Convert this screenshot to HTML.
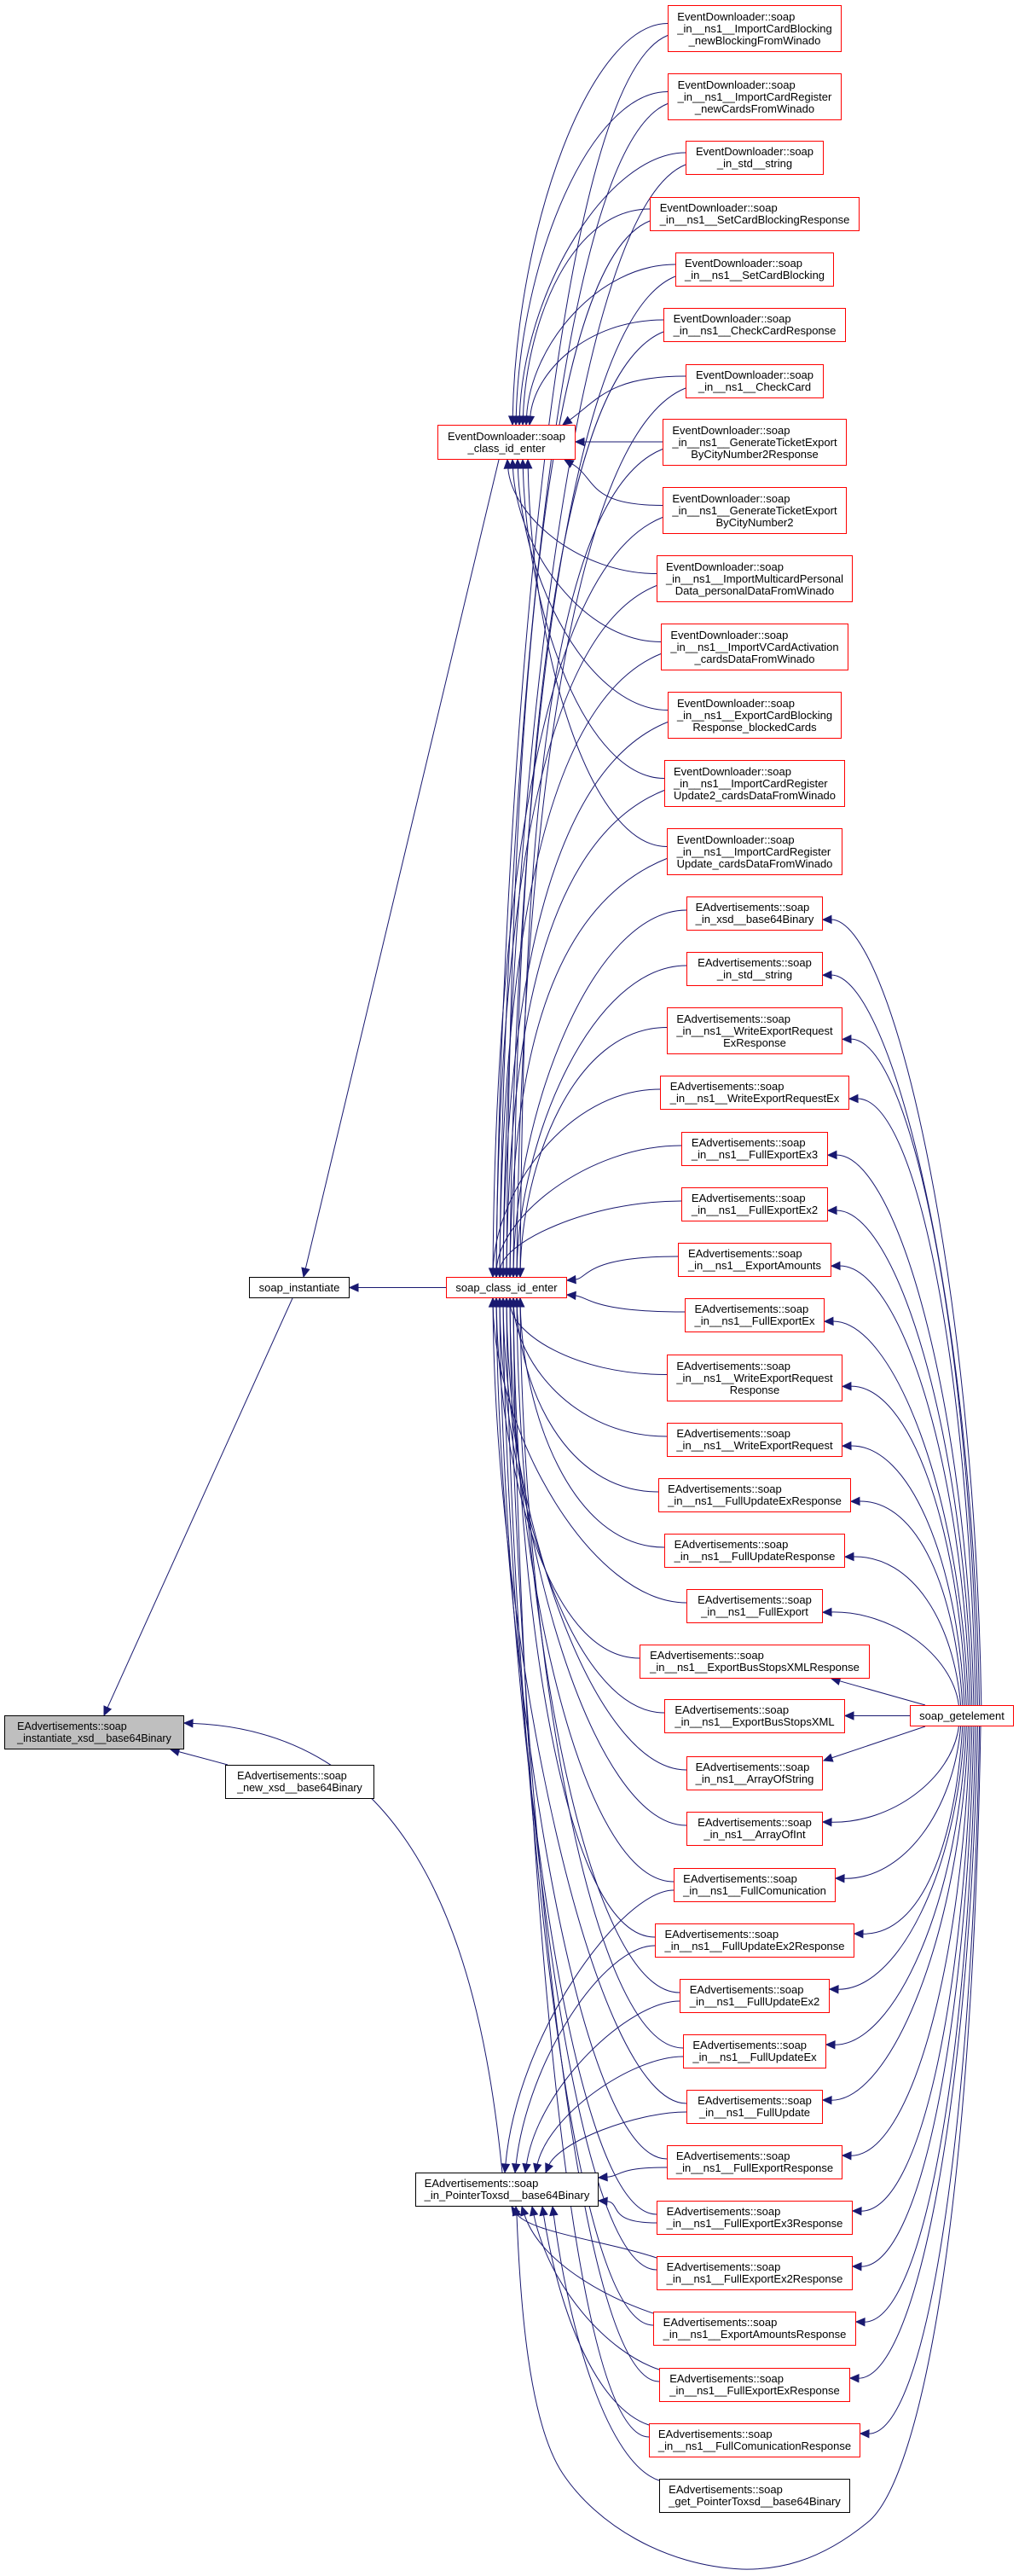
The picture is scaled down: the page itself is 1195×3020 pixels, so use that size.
<!DOCTYPE html>
<html><head><meta charset="utf-8"><style>
body{margin:0;background:#fff;}
#c{position:relative;width:1195px;height:3020px;overflow:hidden;background:#fff;font-family:"Liberation Sans",Arial,sans-serif;}
svg{position:absolute;left:0;top:0;}
.n{position:absolute;box-sizing:border-box;border:1.3px solid #ff0000;background:#fff;display:flex;align-items:center;justify-content:center;font-size:13px;line-height:14px;color:#000;}
.b{border-color:#000;}
.g{background:#bfbfbf;}
.t{display:inline-block;text-align:left;white-space:nowrap;}
.t div:last-child{text-align:center;}
.s{font-size:12.5px;}
</style></head><body><div id="c">
<svg id="e" width="1195" height="3020"></svg>

<div class="n b g s" style="left:5px;top:2011px;width:211px;height:40px"><div class="t"><div>EAdvertisements::soap</div><div>_instantiate_xsd__base64Binary</div></div></div>
<div class="n b s" style="left:264px;top:2069px;width:175px;height:40px"><div class="t"><div>EAdvertisements::soap</div><div>_new_xsd__base64Binary</div></div></div>
<div class="n b" style="left:292px;top:1497px;width:118px;height:25px"><div class="t"><div>soap_instantiate</div></div></div>
<div class="n" style="left:523px;top:1497px;width:142px;height:25px"><div class="t"><div>soap_class_id_enter</div></div></div>
<div class="n" style="left:513px;top:498px;width:162px;height:41px"><div class="t" style="text-align:center"><div style="text-align:center">EventDownloader::soap</div><div>_class_id_enter</div></div></div>
<div class="n b" style="left:487px;top:2547px;width:215px;height:40px"><div class="t"><div>EAdvertisements::soap</div><div>_in_PointerToxsd__base64Binary</div></div></div>
<div class="n" style="left:1067px;top:1999px;width:122px;height:25px"><div class="t"><div>soap_getelement</div></div></div>

<div class="n" style="left:783px;top:6px;width:204px;height:55px"><div class="t"><div>EventDownloader::soap</div><div>_in__ns1__ImportCardBlocking</div><div>_newBlockingFromWinado</div></div></div>
<div class="n" style="left:783px;top:86px;width:204px;height:55px"><div class="t"><div>EventDownloader::soap</div><div>_in__ns1__ImportCardRegister</div><div>_newCardsFromWinado</div></div></div>
<div class="n" style="left:804px;top:165px;width:162px;height:40px"><div class="t"><div>EventDownloader::soap</div><div>_in_std__string</div></div></div>
<div class="n" style="left:762px;top:231px;width:246px;height:40px"><div class="t"><div>EventDownloader::soap</div><div>_in__ns1__SetCardBlockingResponse</div></div></div>
<div class="n" style="left:792px;top:296px;width:186px;height:40px"><div class="t"><div>EventDownloader::soap</div><div>_in__ns1__SetCardBlocking</div></div></div>
<div class="n" style="left:778px;top:361px;width:214px;height:40px"><div class="t"><div>EventDownloader::soap</div><div>_in__ns1__CheckCardResponse</div></div></div>
<div class="n" style="left:804px;top:427px;width:162px;height:40px"><div class="t"><div>EventDownloader::soap</div><div>_in__ns1__CheckCard</div></div></div>
<div class="n" style="left:777px;top:491px;width:216px;height:55px"><div class="t"><div>EventDownloader::soap</div><div>_in__ns1__GenerateTicketExport</div><div>ByCityNumber2Response</div></div></div>
<div class="n" style="left:777px;top:571px;width:216px;height:55px"><div class="t"><div>EventDownloader::soap</div><div>_in__ns1__GenerateTicketExport</div><div>ByCityNumber2</div></div></div>
<div class="n" style="left:770px;top:651px;width:230px;height:55px"><div class="t"><div>EventDownloader::soap</div><div>_in__ns1__ImportMulticardPersonal</div><div>Data_personalDataFromWinado</div></div></div>
<div class="n" style="left:775px;top:731px;width:220px;height:55px"><div class="t"><div>EventDownloader::soap</div><div>_in__ns1__ImportVCardActivation</div><div>_cardsDataFromWinado</div></div></div>
<div class="n" style="left:783px;top:811px;width:204px;height:55px"><div class="t"><div>EventDownloader::soap</div><div>_in__ns1__ExportCardBlocking</div><div>Response_blockedCards</div></div></div>
<div class="n" style="left:779px;top:891px;width:212px;height:55px"><div class="t"><div>EventDownloader::soap</div><div>_in__ns1__ImportCardRegister</div><div>Update2_cardsDataFromWinado</div></div></div>
<div class="n" style="left:782px;top:971px;width:206px;height:55px"><div class="t"><div>EventDownloader::soap</div><div>_in__ns1__ImportCardRegister</div><div>Update_cardsDataFromWinado</div></div></div>

<div class="n" style="left:805px;top:1051px;width:160px;height:40px"><div class="t"><div>EAdvertisements::soap</div><div>_in_xsd__base64Binary</div></div></div>
<div class="n" style="left:805px;top:1116px;width:160px;height:40px"><div class="t"><div>EAdvertisements::soap</div><div>_in_std__string</div></div></div>
<div class="n" style="left:782px;top:1181px;width:206px;height:55px"><div class="t"><div>EAdvertisements::soap</div><div>_in__ns1__WriteExportRequest</div><div>ExResponse</div></div></div>
<div class="n" style="left:774px;top:1261px;width:222px;height:40px"><div class="t"><div>EAdvertisements::soap</div><div>_in__ns1__WriteExportRequestEx</div></div></div>
<div class="n" style="left:799px;top:1327px;width:172px;height:40px"><div class="t"><div>EAdvertisements::soap</div><div>_in__ns1__FullExportEx3</div></div></div>
<div class="n" style="left:799px;top:1392px;width:172px;height:40px"><div class="t"><div>EAdvertisements::soap</div><div>_in__ns1__FullExportEx2</div></div></div>
<div class="n" style="left:795px;top:1457px;width:180px;height:40px"><div class="t"><div>EAdvertisements::soap</div><div>_in__ns1__ExportAmounts</div></div></div>
<div class="n" style="left:803px;top:1522px;width:164px;height:40px"><div class="t"><div>EAdvertisements::soap</div><div>_in__ns1__FullExportEx</div></div></div>
<div class="n" style="left:782px;top:1588px;width:206px;height:55px"><div class="t"><div>EAdvertisements::soap</div><div>_in__ns1__WriteExportRequest</div><div>Response</div></div></div>
<div class="n" style="left:782px;top:1668px;width:206px;height:40px"><div class="t"><div>EAdvertisements::soap</div><div>_in__ns1__WriteExportRequest</div></div></div>
<div class="n" style="left:772px;top:1733px;width:226px;height:40px"><div class="t"><div>EAdvertisements::soap</div><div>_in__ns1__FullUpdateExResponse</div></div></div>
<div class="n" style="left:779px;top:1798px;width:212px;height:40px"><div class="t"><div>EAdvertisements::soap</div><div>_in__ns1__FullUpdateResponse</div></div></div>
<div class="n" style="left:805px;top:1863px;width:160px;height:40px"><div class="t"><div>EAdvertisements::soap</div><div>_in__ns1__FullExport</div></div></div>
<div class="n" style="left:750px;top:1928px;width:270px;height:40px"><div class="t"><div>EAdvertisements::soap</div><div>_in__ns1__ExportBusStopsXMLResponse</div></div></div>
<div class="n" style="left:779px;top:1992px;width:212px;height:40px"><div class="t"><div>EAdvertisements::soap</div><div>_in__ns1__ExportBusStopsXML</div></div></div>
<div class="n" style="left:805px;top:2059px;width:160px;height:40px"><div class="t"><div>EAdvertisements::soap</div><div>_in_ns1__ArrayOfString</div></div></div>
<div class="n" style="left:805px;top:2124px;width:160px;height:40px"><div class="t"><div>EAdvertisements::soap</div><div>_in_ns1__ArrayOfInt</div></div></div>
<div class="n" style="left:790px;top:2190px;width:190px;height:40px"><div class="t"><div>EAdvertisements::soap</div><div>_in__ns1__FullComunication</div></div></div>
<div class="n" style="left:768px;top:2255px;width:234px;height:40px"><div class="t"><div>EAdvertisements::soap</div><div>_in__ns1__FullUpdateEx2Response</div></div></div>
<div class="n" style="left:797px;top:2320px;width:176px;height:40px"><div class="t"><div>EAdvertisements::soap</div><div>_in__ns1__FullUpdateEx2</div></div></div>
<div class="n" style="left:801px;top:2385px;width:168px;height:40px"><div class="t"><div>EAdvertisements::soap</div><div>_in__ns1__FullUpdateEx</div></div></div>
<div class="n" style="left:805px;top:2450px;width:160px;height:40px"><div class="t"><div>EAdvertisements::soap</div><div>_in__ns1__FullUpdate</div></div></div>
<div class="n" style="left:782px;top:2515px;width:206px;height:40px"><div class="t"><div>EAdvertisements::soap</div><div>_in__ns1__FullExportResponse</div></div></div>
<div class="n" style="left:770px;top:2580px;width:230px;height:40px"><div class="t"><div>EAdvertisements::soap</div><div>_in__ns1__FullExportEx3Response</div></div></div>
<div class="n" style="left:770px;top:2645px;width:230px;height:40px"><div class="t"><div>EAdvertisements::soap</div><div>_in__ns1__FullExportEx2Response</div></div></div>
<div class="n" style="left:766px;top:2710px;width:238px;height:40px"><div class="t"><div>EAdvertisements::soap</div><div>_in__ns1__ExportAmountsResponse</div></div></div>
<div class="n" style="left:773px;top:2776px;width:224px;height:40px"><div class="t"><div>EAdvertisements::soap</div><div>_in__ns1__FullExportExResponse</div></div></div>
<div class="n" style="left:761px;top:2841px;width:248px;height:40px"><div class="t"><div>EAdvertisements::soap</div><div>_in__ns1__FullComunicationResponse</div></div></div>
<div class="n b" style="left:773px;top:2906px;width:224px;height:40px"><div class="t"><div>EAdvertisements::soap</div><div>_get_PointerToxsd__base64Binary</div></div></div>
</div>
<script>
var N=[null,
[783,987,6,55],[783,987,86,55],[804,966,165,40],[762,1008,231,40],[792,978,296,40],[778,992,361,40],[804,966,427,40],
[777,993,491,55],[777,993,571,55],[770,1000,651,55],[775,995,731,55],[783,987,811,55],[779,991,891,55],[782,988,971,55],
[805,965,1051,40],[805,965,1116,40],[782,988,1181,55],[774,996,1261,40],[799,971,1327,40],[799,971,1392,40],[795,975,1457,40],
[803,967,1522,40],[782,988,1588,55],[782,988,1668,40],[772,998,1733,40],[779,991,1798,40],[805,965,1863,40],[750,1020,1928,40],
[779,991,1992,40],[805,965,2059,40],[805,965,2124,40],[790,980,2190,40],[768,1002,2255,40],[797,973,2320,40],[801,969,2385,40],
[805,965,2450,40],[782,988,2515,40],[770,1000,2580,40],[770,1000,2645,40],[766,1004,2710,40],[773,997,2776,40],[761,1009,2841,40],
[773,997,2906,40]];
var svg=document.getElementById('e'),out='',C='#191970';
function arrow(ex,ey,tx,ty){var dx=ex-tx,dy=ey-ty,l=Math.sqrt(dx*dx+dy*dy)||1;dx/=l;dy/=l;var L=10,W=4.5;
var bx=ex-dx*L,by=ey-dy*L;out+='<polygon points="'+ex+','+ey+' '+(bx-dy*W)+','+(by+dx*W)+' '+(bx+dy*W)+','+(by-dx*W)+'" fill="'+C+'" stroke="'+C+'"/>';}
function P(d){out+='<path d="'+d+'" fill="none" stroke="'+C+'" stroke-width="1"/>';}
function cub(sx,sy,c1x,c1y,c2x,c2y,ex,ey){var bx=ex-(ex-c2x)*0.12,by=ey-(ey-c2y)*0.12;
var dx=ex-c2x,dy=ey-c2y,l=Math.sqrt(dx*dx+dy*dy)||1;var px=ex-dx/l*9,py=ey-dy/l*9;
P('M'+sx+','+sy+' C'+c1x+','+c1y+' '+c2x+','+c2y+' '+px+','+py);arrow(ex,ey,c2x,c2y);}
function line(sx,sy,ex,ey){var dx=ex-sx,dy=ey-sy,l=Math.sqrt(dx*dx+dy*dy);P('M'+sx+','+sy+' L'+(ex-dx/l*9)+','+(ey-dy/l*9));arrow(ex,ey,sx,sy);}
// simple ones
line(343,1522,122,2011);
line(585,539,356,1497);
line(523,1509.5,410,1509.5);
line(267,2069,200,2051);
cub(589,2547,560,2250,470,2030,216,2020);
// ED nodes -> ED enter
for(var i=1;i<=14;i++){var n=N[i],L=n[0],cy=n[2]+n[3]/2,sy=cy-6,ex,ey,c2x,c2y;
 if(i<=6){ex=597+i*4;ey=498;c2x=ex+5;c2y=ey-Math.min((ey-sy)*0.5,250);}
 else if(i==7){ex=660;ey=498;c2x=700;c2y=470;}
 else if(i==8){ex=675;ey=518;c2x=700;c2y=518;sy=518;}
 else if(i==9){ex=662;ey=539;c2x=700;c2y=560;}
 else{ex=595+(i-10)*6;ey=539;c2x=ex+5;c2y=ey+Math.min((sy-ey)*0.5,250);}
 cub(L,sy,L-90,sy,c2x,c2y,ex,ey);}
// all -> soap_class_id_enter
for(var i=1;i<=42;i++){var n=N[i],L=n[0],cy=n[2]+n[3]/2,sy=i<=14?cy+8:cy-4,ex,ey,c2x,c2y;
 if(i<=20){ex=578+(i%9)*4;ey=1497;c2x=ex+3;c2y=ey-Math.min((ey-sy)*0.45,400);}
 else if(i==21){ex=665;ey=1501;c2x=690;c2y=1499;}
 else if(i==22){ex=665;ey=1518;c2x=690;c2y=1520;}
 else{ex=578+(i%9)*4;ey=1522;c2x=ex+3;c2y=ey+Math.min((sy-ey)*0.45,400);}
 var c1x=i<=14?L-150:L-110;
 cub(L,sy,c1x,sy+(i<=14?60:0),c2x,c2y,ex,ey);}
// -> in_PointerToxsd
var IP=[487,702,2547,2587];
for(var i=32;i<=43;i++){var n=N[i],L=n[0],cy=n[2]+n[3]/2,sy=(i>=39)?n[2]+2:cy+6,ex,ey,c2x,c2y;
 if(i<=36){ex=592+(i-32)*12;ey=2547;c2x=ex+15;c2y=ey-Math.min((ey-sy)*0.5,200);}
 else if(i==37){ex=702;ey=2553;c2x=730;c2y=2551;}
 else if(i==38){ex=702;ey=2580;c2x=730;c2y=2582;}
 else{ex=600+(i-39)*12;ey=2587;c2x=ex+20;c2y=ey+Math.min((sy-ey)*0.5,150);}
 cub(L,sy,L-60,sy+(i>=39?-20:0),c2x,c2y,ex,ey);}
// getelement -> EAdv nodes
for(var i=15;i<=42;i++){var n=N[i],R=n[1],y=n[2],h=n[3];
 if(i==29){line(1067,2011.5,991,2011.5);continue;}
 if(i==28){line(1085,1999,975,1968);continue;}
 if(i==30){line(1085,2024,966,2064);continue;}
 if(i<29){var ey=y+h*0.68,gx=1120+(29-i)*2.2,sy=1999;cub(gx,sy,gx-8,ey+(sy-ey)*0.45,R+80,ey-2,R,ey);}
 else{var ey=y+h*0.3,gx=1120+(i-29)*2.2,sy=2024;cub(gx,sy,gx-8,ey-(ey-sy)*0.45,R+80,ey+2,R,ey);}}
// big loop getelement -> in_Pointer
P('M1150,2024 C1140,2600 1080,2900 1020,2955 C960,3005 910,3013 870,3012 C780,3008 700,2960 660,2900 C620,2840 610,2700 606,2597');
arrow(605,2587,606,2600);
svg.innerHTML=out;
</script>
</body></html>
